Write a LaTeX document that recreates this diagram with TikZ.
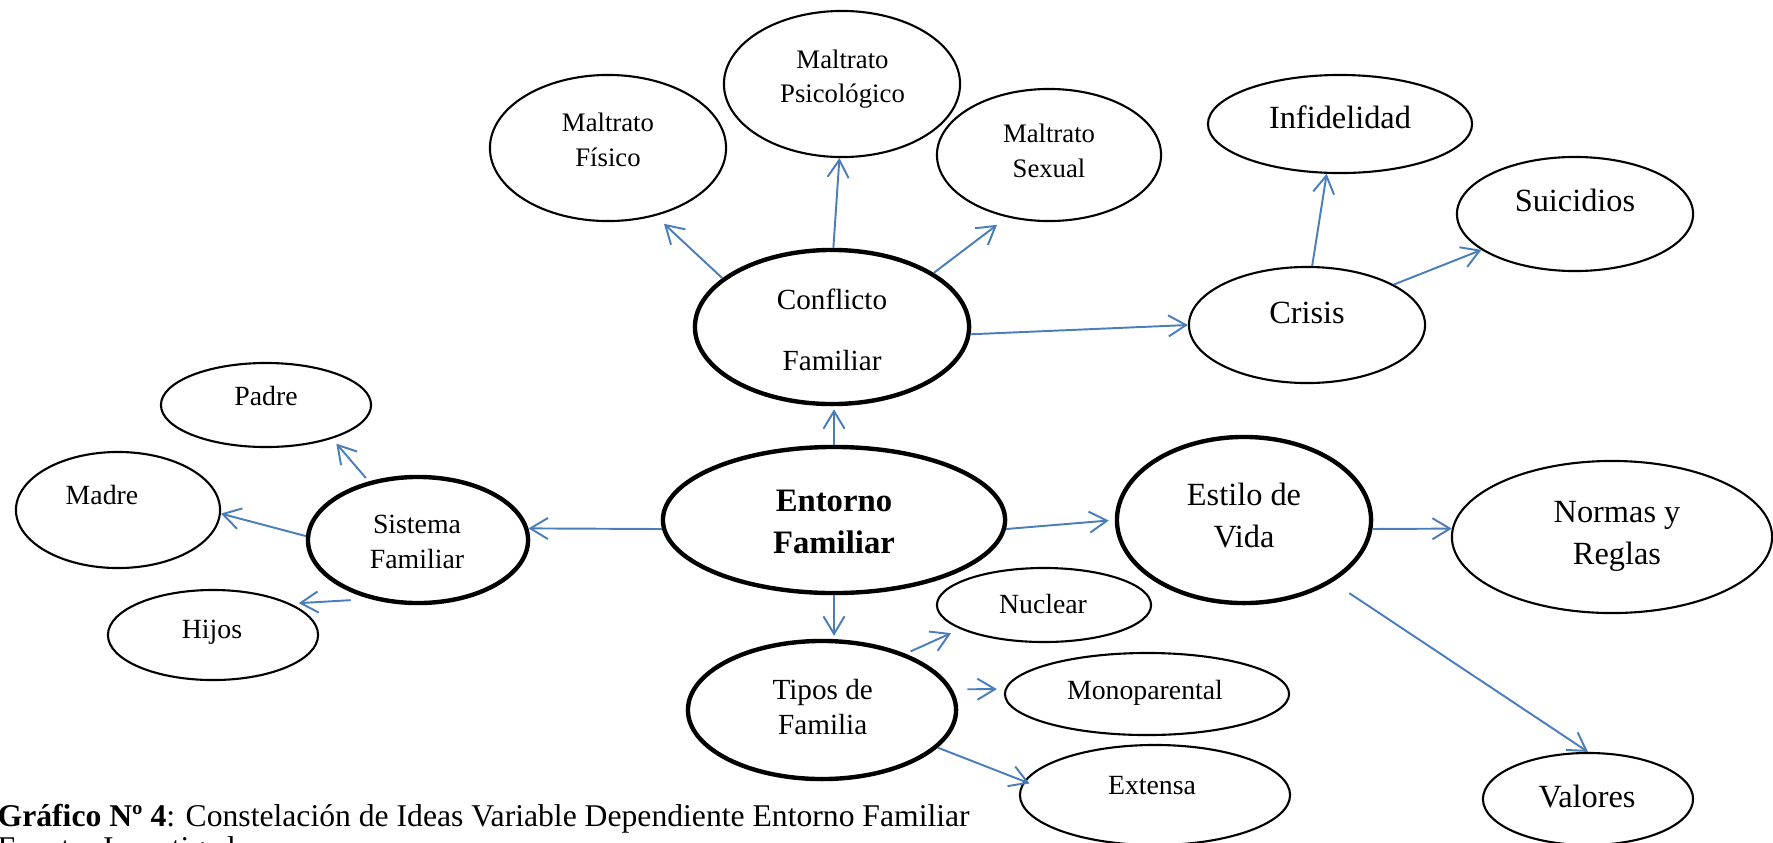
\documentclass[tikz,border=0pt]{standalone}
\usepackage{fontspec}
\setmainfont{Liberation Serif}
\usetikzlibrary{shapes.geometric,arrows.meta}
\definecolor{arrowblue}{RGB}{74,126,187}
\tikzset{
  ell/.style={ellipse, draw=black, line width=0.6pt, inner sep=0pt},
  ellb/.style={ell, line width=1.25pt},
  arr/.style={draw=arrowblue, line width=0.55pt, -{Straight Barb[length=5pt,width=6pt]}},
  tx/.style={anchor=base, inner sep=0pt},
  fa/.style={tx, font=\fontsize{7.6}{9}\selectfont},
  fb/.style={tx, font=\fontsize{7.9}{9}\selectfont},
  fc/.style={tx, font=\fontsize{8.3}{9}\selectfont},
  fd/.style={tx, font=\fontsize{9.2}{11}\selectfont},
  fe/.style={tx, font=\fontsize{9.3}{11}\selectfont\bfseries},
}
\begin{document}
\begin{tikzpicture}[x=0.01cm, y=-0.01cm]
\useasboundingbox (0,0) rectangle (1773,842);
\clip (0,0) rectangle (1773,842);

% ellipses
\node[ellb, minimum width=3.42cm, minimum height=1.46cm] (ent) at (834,520) {};
\node[ellb, minimum width=2.74cm, minimum height=1.54cm] (conf) at (832,327) {};
\node[ell,  minimum width=2.36cm, minimum height=1.46cm] (fis) at (608,148) {};
\node[ell,  minimum width=2.36cm, minimum height=1.46cm] (psi) at (842,84) {};
\node[ell,  minimum width=2.24cm, minimum height=1.32cm] (sex) at (1049,155) {};
\node[ell,  minimum width=2.64cm, minimum height=0.98cm] (inf) at (1340,124) {};
\node[ell,  minimum width=2.36cm, minimum height=1.14cm] (sui) at (1575,214) {};
\node[ell,  minimum width=2.36cm, minimum height=1.16cm] (cri) at (1307,325) {};
\node[ell,  minimum width=2.10cm, minimum height=0.84cm] (pad) at (266,405) {};
\node[ell,  minimum width=2.04cm, minimum height=1.16cm] (mad) at (118,510) {};
\node[ellb, minimum width=2.20cm, minimum height=1.26cm] (sis) at (418,540) {};
\node[ell,  minimum width=2.10cm, minimum height=0.90cm] (hij) at (213,635) {};
\node[ellb, minimum width=2.54cm, minimum height=1.66cm] (est) at (1244,520) {};
\node[ell,  minimum width=3.20cm, minimum height=1.52cm] (nor) at (1612,537) {};
\node[ell,  minimum width=2.10cm, minimum height=0.92cm] (val) at (1588,799) {};
\node[ellb, minimum width=2.68cm, minimum height=1.38cm] (tip) at (822,710) {};
\node[ell,  minimum width=2.14cm, minimum height=0.74cm] (nuc) at (1044,605) {};
\node[ell,  minimum width=2.84cm, minimum height=0.82cm] (mon) at (1147,694) {};
\node[ell,  minimum width=2.70cm, minimum height=1.00cm] (ext) at (1155,795) {};

% texts
\node[fe] (ent1) at (834,511.7) {Entorno};
\node[fe] (ent2) at (834,553.3) {Familiar};
\node[fc] (conf1) at (832,309.3) {Conflicto};
\node[fc] (conf2) at (832,370) {Familiar};
\node[fa] (fis1) at (608,131.7) {Maltrato};
\node[fa] (fis2) at (608,166) {Físico};
\node[fa] (psi1) at (842.5,68.3) {Maltrato};
\node[fa] (psi2) at (842.5,102.7) {Psicológico};
\node[fa] (sex1) at (1049,142.7) {Maltrato};
\node[fa] (sex2) at (1049,177.3) {Sexual};
\node[fd] (inf1) at (1340,128.3) {Infidelidad};
\node[fd] (sui1) at (1575,211.7) {Suicidios};
\node[fd] (cri1) at (1307,323.3) {Crisis};
\node[fb] (pad1) at (266,405) {Padre};
\node[fb] (mad1) at (102,504) {Madre};
\node[fb] (sis1) at (417,533.3) {Sistema};
\node[fb] (sis2) at (417,568.3) {Familiar};
\node[fb] (hij1) at (212,638.3) {Hijos};
\node[fd] (est1) at (1244,505) {Estilo de};
\node[fd] (est2) at (1244,547) {Vida};
\node[fd] (nor1) at (1617,522) {Normas y};
\node[fd] (nor2) at (1617,564) {Reglas};
\node[fd] (val1) at (1587,807) {Valores};
\node[fc] (tip1) at (822.7,699.3) {Tipos de};
\node[fc] (tip2) at (822.7,734) {Familia};
\node[fb] (nuc1) at (1043,613.3) {Nuclear};
\node[fb] (mon1) at (1145,699.3) {Monoparental};
\node[fb] (ext1) at (1152,794) {Extensa};

% caption
\node[tx, anchor=base west, font=\fontsize{9}{11}\selectfont] (cap1) at (-3,826)
  {{\bfseries Gráfico Nº 4}: Constelación de Ideas Variable Dependiente Entorno Familiar};
\node[tx, anchor=base west, font=\fontsize{9}{11}\selectfont] (cap2) at (-3,858)
  {Fuente: Investigadora};

% connectors
\draw[arr, shorten >=0.03cm] (ent.north) -- (ent.north |- conf.south);
\draw[arr, shorten >=0.03cm] (ent.south) -- (ent.south |- tip.north);
\draw[arr] (ent.183) -- (sis.6);
\draw[arr, shorten >=0.06cm] (ent.357) -- (est.180);
\draw[arr, shorten >=0.115cm] (conf.156) -- (fis.305);
\draw[arr] (conf.89) -- (psi.268);
\draw[arr, shorten >=0.125cm] (conf.28) -- (sex.236);
\draw[arr] (conf.357) -- (cri.180);
\draw[arr] (cri.85) -- (inf.255);
\draw[arr] (cri.25) -- (sui.201);
\draw[arr, shorten <=0.045cm, shorten >=0.065cm] (sis.130) -- (pad.333);
\draw[arr] (sis.178) -- (mad.358);
\draw[arr, shorten <=0.195cm, shorten >=0.08cm] (sis.231) -- (hij.22);
\draw[arr] (est.356) -- (nor.177);
\draw[arr, shorten <=0.2cm] (est.325) -- (val.north);
\draw[arr, shorten <=0.055cm, shorten >=0.1cm] (tip.34) -- (nuc.196);
\draw[arr, shorten <=0.15cm, shorten >=0.08cm] (tip.9) -- (mon.178);
\draw[arr, shorten >=-0.06cm] (tip.342) -- (ext.174);
\end{tikzpicture}
\end{document}
